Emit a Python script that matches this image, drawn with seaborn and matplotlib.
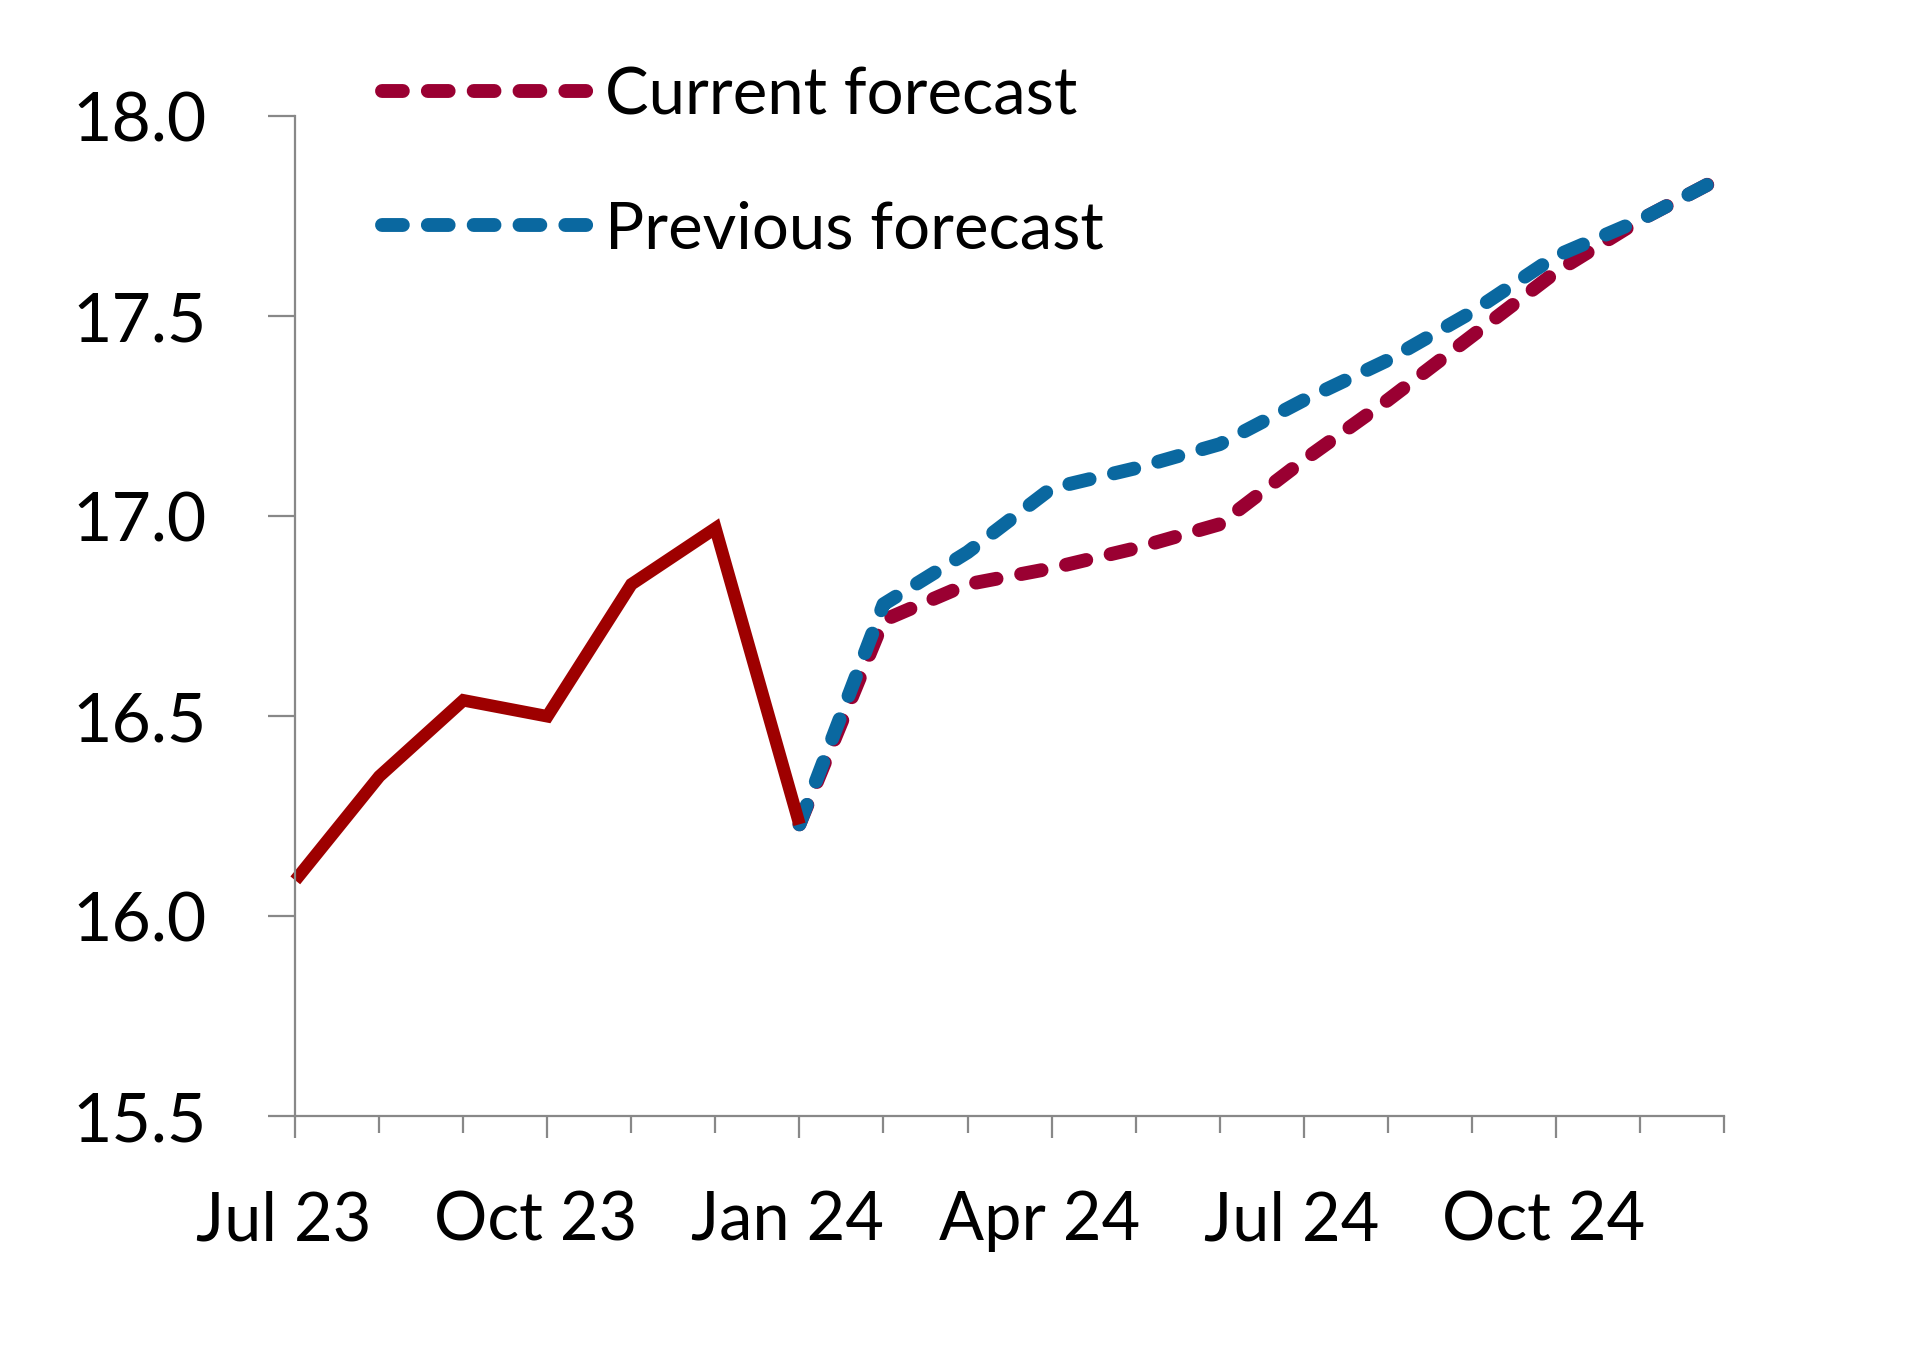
import numpy as np
import pandas as pd
import matplotlib
matplotlib.use("Agg")
import matplotlib.pyplot as plt
import matplotlib.transforms as mtransforms
import seaborn as sns

# ---- data ----
months = ["Jul 23", "Aug 23", "Sep 23", "Oct 23", "Nov 23", "Dec 23",
          "Jan 24", "Feb 24", "Mar 24", "Apr 24", "May 24", "Jun 24",
          "Jul 24", "Aug 24", "Sep 24", "Oct 24", "Nov 24", "Dec 24"]
actual_months = months[0:7]
actual = [16.09, 16.35, 16.54, 16.50, 16.83, 16.97, 16.23]
forecast_months = months[6:18]
current_forecast = [16.23, 16.74, 16.83, 16.87, 16.92, 16.98,
                    17.14, 17.29, 17.45, 17.61, 17.74, 17.85]
previous_forecast = [16.23, 16.78, 16.91, 17.07, 17.12, 17.18,
                     17.29, 17.39, 17.51, 17.65, 17.74, 17.85]
xtick_labels = ["Jul 23", "Oct 23", "Jan 24", "Apr 24", "Jul 24", "Oct 24"]
yticks = [15.5, 16.0, 16.5, 17.0, 17.5, 18.0]

# ---- styling ----
sns.set_theme(style="white")
plt.rcParams["font.family"] = ["Lato", "DejaVu Sans"]
plt.rcParams["text.color"] = "black"

C_ACTUAL = "#9E0000"
C_CURRENT = "#9A0032"
C_PREV = "#0A68A0"
C_AXIS = "#888888"

pos = {m: i for i, m in enumerate(months)}
df_act = pd.DataFrame({"x": [pos[m] for m in actual_months], "y": actual})
df_cur = pd.DataFrame({"x": [pos[m] for m in forecast_months], "y": current_forecast})
df_prev = pd.DataFrame({"x": [pos[m] for m in forecast_months], "y": previous_forecast})

fig = plt.figure(figsize=(19.2, 13.5), dpi=100)
ax = fig.add_axes([0.1538, 0.173, 0.744, 0.741])

dash = (0, (1.5, 1.8))
sns.lineplot(data=df_cur, x="x", y="y", ax=ax, color=C_CURRENT, linewidth=10,
             linestyle=dash, dash_capstyle="round", label="Current forecast",
             clip_on=False)
sns.lineplot(data=df_prev, x="x", y="y", ax=ax, color=C_PREV, linewidth=10,
             linestyle=dash, dash_capstyle="round", label="Previous forecast",
             clip_on=False)
sns.lineplot(data=df_act, x="x", y="y", ax=ax, color=C_ACTUAL, linewidth=9,
             solid_joinstyle="miter", solid_capstyle="butt", clip_on=False)

ax.set_xlim(0, len(months) - 1)
ax.set_ylim(15.5, 18.0)
ax.set_xlabel("")
ax.set_ylabel("")

ax.set_yticks(yticks)
ax.set_yticklabels([f"{v:.1f}" for v in yticks])
ax.set_xticks([pos[m] for m in xtick_labels])
ax.set_xticklabels(xtick_labels)
ax.set_xticks(np.arange(len(months)), minor=True)

for s in ["top", "right"]:
    ax.spines[s].set_visible(False)
for s in ["left", "bottom"]:
    ax.spines[s].set_color(C_AXIS)
    ax.spines[s].set_linewidth(1.6)

ax.tick_params(axis="y", which="major", direction="out", length=19.5, width=1.6,
               color=C_AXIS, pad=44, labelsize=49, labelcolor="black", left=True)
ax.tick_params(axis="x", which="major", direction="out", length=16, width=1.6,
               color=C_AXIS, pad=37, labelsize=48, labelcolor="black", bottom=True)
ax.tick_params(axis="x", which="minor", direction="out", length=12.5, width=1.6,
               color=C_AXIS, bottom=True)

offset = mtransforms.ScaledTranslation(-0.12, 0, fig.dpi_scale_trans)
for lbl in ax.get_xticklabels():
    lbl.set_transform(lbl.get_transform() + offset)

leg = ax.legend(loc="upper left", bbox_to_anchor=(0.199, 0.951),
                bbox_transform=fig.transFigure, frameon=False, fontsize=47,
                handlelength=3.15, handletextpad=0.27, labelspacing=1.15,
                borderpad=0, borderaxespad=0)
for t in leg.get_texts():
    t.set_color("black")

fig.savefig("out.png", dpi=100, facecolor="white")
